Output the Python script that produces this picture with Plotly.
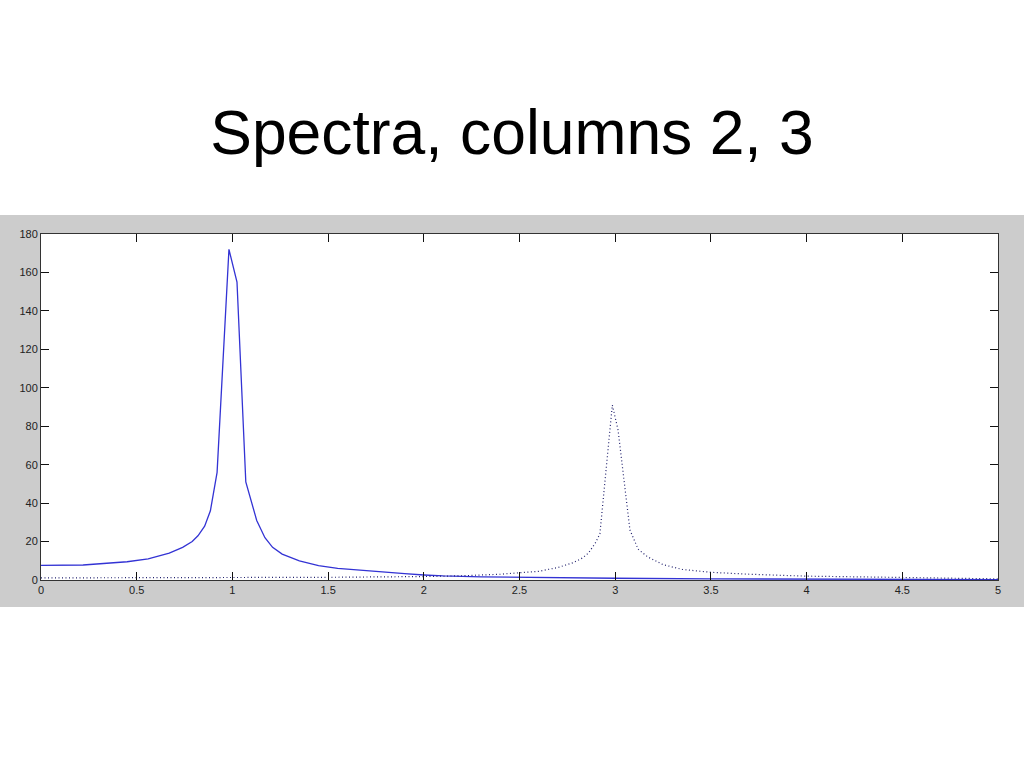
import plotly.graph_objects as go

# Column 2 spectrum (solid)
x_col2 = [0, 0.22, 0.45, 0.56, 0.67, 0.74, 0.79, 0.82, 0.855, 0.885, 0.92, 0.982, 1.024, 1.07, 1.127,
          1.17, 1.21, 1.26, 1.35, 1.45, 1.55, 1.7, 1.8, 1.9, 2.0, 2.1, 2.3, 2.5, 2.8, 3.0,
          3.5, 4.0, 4.5, 5.0]
y_col2 = [7.6, 7.8, 9.5, 11, 14, 17, 20, 23, 28, 36, 56, 172, 155, 51, 31,
          22, 17, 13.5, 10, 7.5, 6, 5, 4, 3.3, 2.6, 2.1, 1.6, 1.3, 1.0, 0.9,
          0.6, 0.4, 0.3, 0.2]

# Column 3 spectrum (dotted)
x_col3 = [0, 0.5, 1.0, 1.5, 2.0, 2.2, 2.4, 2.5, 2.6, 2.7, 2.78, 2.83, 2.86, 2.895, 2.92,
          2.985, 3.015, 3.077, 3.12, 3.17, 3.25, 3.35, 3.5, 3.7, 4.0, 4.3, 4.6, 5.0]
y_col3 = [1.1, 1.1, 1.2, 1.4, 1.8, 2.2, 3.0, 3.6, 4.5, 6.5, 9, 11.5, 14, 19, 24,
          91, 78, 26, 16, 12, 8, 5.5, 4, 3, 2, 1.6, 1.2, 0.6]

title_text = "Spectra, columns 2, 3"

fig = go.Figure()
fig.add_trace(go.Scatter(x=x_col2, y=y_col2, mode="lines",
                         line=dict(color="#3333d4", width=1.3), showlegend=False))
fig.add_trace(go.Scatter(x=x_col3, y=y_col3, mode="lines",
                         line=dict(color="#22226e", width=1.2, dash="1px,2.5px"),
                         showlegend=False))

# grey band behind the axes, then white plot area over it
fig.add_shape(type="rect", xref="paper", yref="paper",
              x0=-0.1, x1=1.1, y0=-0.078, y1=1.0549,
              fillcolor="#cccccc", line=dict(width=0), layer="below")
fig.add_shape(type="rect", xref="paper", yref="paper",
              x0=0, x1=1, y0=0, y1=1,
              fillcolor="white", line=dict(width=0), layer="below")

axis_common = dict(showline=True, linecolor="#333333", linewidth=1, mirror="ticks",
                   ticks="inside", ticklen=8, tickcolor="#111111", showgrid=False,
                   zeroline=False, tickfont=dict(family="Liberation Sans, Arial", size=11,
                                                 color="#222222"))

fig.update_xaxes(range=[0, 5], dtick=0.5, tick0=0, **axis_common)
fig.update_yaxes(range=[0, 180], dtick=20, tick0=0, **axis_common)

fig.update_layout(
    width=1024, height=768,
    margin=dict(l=41, r=26, t=234, b=188),
    paper_bgcolor="white", plot_bgcolor="white",
    title=dict(text=title_text, x=0.5, xanchor="center", y=1 - 132 / 768,
               yanchor="middle",
               font=dict(family="Liberation Sans, Arial", size=62.4, color="black")),
)

fig.write_html("out.html", config={"displayModeBar": False},
               post_script="document.body.style.margin='0';")
